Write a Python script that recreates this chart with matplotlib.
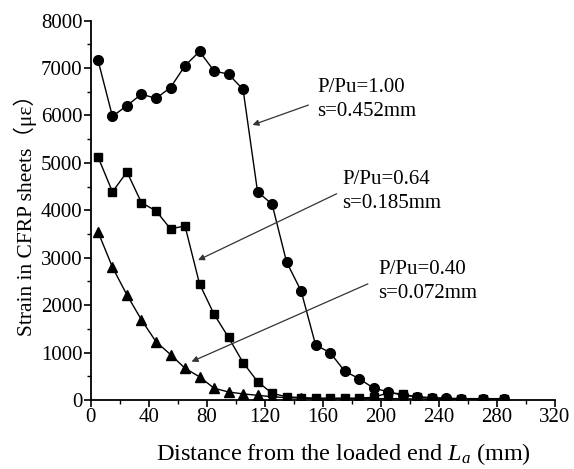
import matplotlib
matplotlib.use("Agg")
import matplotlib.pyplot as plt
from matplotlib.ticker import MultipleLocator

plt.rcParams['font.family'] = ['Liberation Serif', 'Noto Sans CJK SC']
plt.rcParams['mathtext.fontset'] = 'custom'
plt.rcParams['mathtext.rm'] = 'Liberation Serif'
plt.rcParams['mathtext.it'] = 'Liberation Serif:italic'

x_vals = [5, 15, 25, 35, 45, 55, 65, 75, 85, 95, 105, 115, 125, 135, 145, 155,
          165, 175, 185, 195, 205, 215, 225, 235, 245, 255, 270, 285]
circle_y = [7170, 5980, 6210, 6450, 6360, 6590, 7050, 7350, 6940, 6870, 6550, 4390,
            4130, 2910, 2300, 1160, 1000, 610, 450, 250, 175, 100, 70, 50, 40, 30, 30, 30]
square_y = [5130, 4390, 4810, 4160, 3990, 3610, 3670, 2450, 1810, 1320, 790, 390,
            140, 70, 50, 40, 40, 40, 40, 60, 150, 130, 60, 40, 30, 30, 20, 20]
triangle_y = [3550, 2800, 2215, 1690, 1230, 960, 670, 490, 250, 170, 130, 100,
              70, 50, 40, 30, 30, 30, 30, 30, 30, 30, 20, 20, 20, 20, 20, 20]

labels = ["P/Pu=1.00\ns=0.452mm", "P/Pu=0.64\ns=0.185mm", "P/Pu=0.40\ns=0.072mm"]
arrow_heads = [(111.5, 5800), (74, 2950), (69.5, 810)]
arrow_tails = [(150, 6220), (169.5, 4350), (191, 2450)]
text_pos = [(156, 6340), (173.5, 4400), (198, 2500)]

fig = plt.figure(figsize=(5.74, 4.69), dpi=100)
ax = fig.add_axes([0.158, 0.147, 0.809, 0.809])

ax.plot(x_vals, circle_y, '-o', color='black', lw=1, ms=7, zorder=3)
ax.plot(x_vals, square_y, '-s', color='black', lw=1, ms=6.3, zorder=3)
ax.plot(x_vals, triangle_y, '-^', color='black', lw=1, ms=7.5, zorder=3)

for lab, head, tail, tp in zip(labels, arrow_heads, arrow_tails, text_pos):
    ax.annotate("", xy=head, xytext=tail,
                arrowprops=dict(arrowstyle='-|>', color='#333333', lw=0.9,
                                mutation_scale=9, shrinkA=0, shrinkB=0))
    ax.text(tp[0], tp[1], lab, fontsize=15, ha='left', va='center',
            linespacing=1.4)

ax.set_xlim(0, 320)
ax.set_ylim(0, 8000)
ax.xaxis.set_major_locator(MultipleLocator(40))
ax.xaxis.set_minor_locator(MultipleLocator(20))
ax.yaxis.set_major_locator(MultipleLocator(1000))
ax.yaxis.set_minor_locator(MultipleLocator(500))
for s in ['top', 'right']:
    ax.spines[s].set_visible(False)
for s in ['left', 'bottom']:
    ax.spines[s].set_linewidth(1.3)
ax.tick_params(which='major', direction='out', length=5, width=1.2, labelsize=15, pad=1)
ax.tick_params(which='minor', direction='out', length=3, width=1.0)

ax.set_xlabel("Distance from the loaded end $L_a$ (mm)", fontsize=17.5, labelpad=10)
ax.xaxis.label.set_x(0.545)
ax.set_ylabel("Strain in CFRP sheets（με）", fontsize=15.5, labelpad=3)

fig.savefig("out.png", dpi=100)
